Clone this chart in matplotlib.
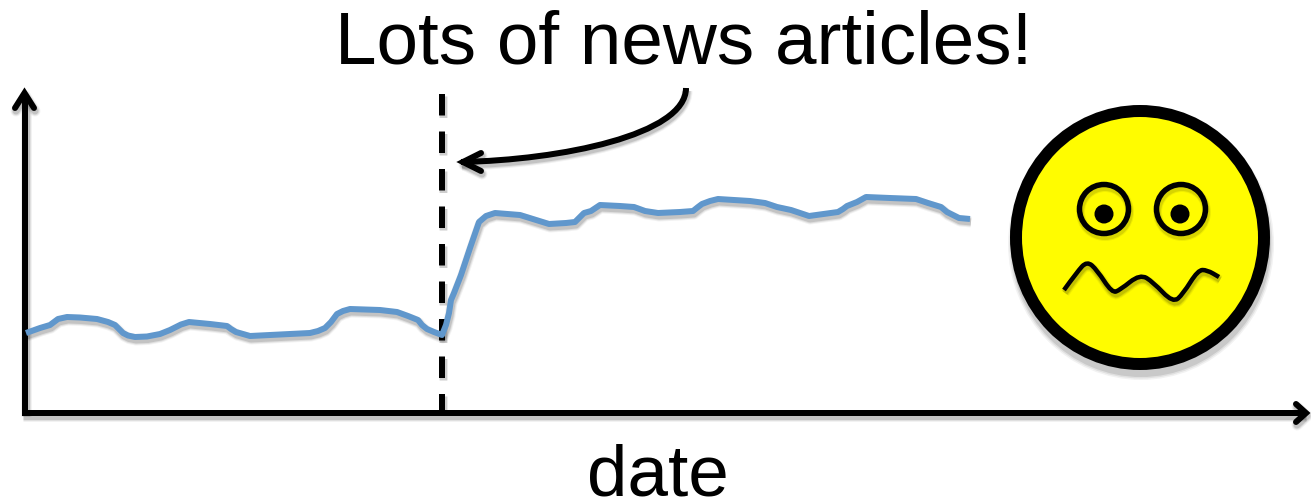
import matplotlib.pyplot as plt
from matplotlib.patches import Circle, Ellipse, PathPatch
from matplotlib.path import Path
from matplotlib.transforms import Affine2D

plt.rcParams['font.family'] = ['Liberation Sans', 'DejaVu Sans']

# values, in image pixels
series_x = [26, 40, 50, 54, 58, 67, 80, 97, 108, 115, 119, 123, 128, 135, 147, 160, 170, 176, 181, 189, 210, 227, 231,
            236, 250, 310, 318, 325, 331, 337, 343, 350, 380, 397, 408, 418, 422, 427, 434, 442, 446, 449, 451, 454,
            461, 470, 479, 486, 495, 520, 549, 566, 575, 579, 584, 591, 600, 620, 634, 645, 658, 680, 693, 698, 702,
            710, 718, 750, 765, 777, 791, 809, 838, 843, 847, 857, 866, 890, 916, 928, 941, 947, 959, 970]
series_y = [333, 328, 325, 322, 319, 317, 317.5, 319, 322, 325, 329, 333, 335.5, 337, 336.5, 334, 330, 327, 324.5, 322, 324, 326, 329,
            332, 336, 333, 331, 328, 322, 314, 311, 309, 310, 312, 316, 320, 325, 329, 332, 335, 325, 313, 300, 293,
            275, 248, 222, 216, 213, 215, 224, 223, 222, 218, 213, 211, 205, 206, 207, 211, 213, 212, 211, 207, 204,
            201, 199, 201, 203, 207, 210, 216, 212, 209, 206, 202, 197, 198, 199, 203, 207, 212, 218, 219]
mouth_x = [1064, 1077, 1087, 1097, 1112, 1120, 1140, 1153, 1173, 1183, 1198, 1207, 1219]
mouth_y = [290, 272, 261, 270, 293, 290, 274, 282, 303, 294, 270, 270, 277]
arrow_x = [686, 686, 560, 461]
arrow_y = [88, 135, 160, 162]

BLUE = '#6097cc'
SOFT = [(5, 0.05), (3, 0.08), (1, 0.12)]


def px(w):
    return w * 0.72


def smooth_path(xs, ys):
    # quadratic segments through midpoints
    verts = [(xs[0], ys[0])]
    codes = [Path.MOVETO]
    for i in range(1, len(xs) - 1):
        verts += [(xs[i], ys[i]), ((xs[i] + xs[i + 1]) / 2, (ys[i] + ys[i + 1]) / 2)]
        codes += [Path.CURVE3, Path.CURVE3]
    verts.append((xs[-1], ys[-1]))
    codes.append(Path.LINETO)
    return Path(verts, codes)


fig = plt.figure(figsize=(13.11, 5.04), dpi=100)
ax = fig.add_axes([0, 0, 1, 1])
ax.set_xlim(0, 1311)
ax.set_ylim(504, 0)
ax.axis('off')


def stroke(xs, ys, width, color='black', cap='butt', join='round', shade=True):
    if shade:
        for extra, alpha in SOFT:
            ax.plot([x + 1 for x in xs], [y + 3 for y in ys], color='black', alpha=alpha,
                    lw=px(width + extra), solid_capstyle=cap, solid_joinstyle='round')
    ax.plot(xs, ys, color=color, lw=px(width), solid_capstyle=cap, solid_joinstyle=join)


def curve(path, width):
    shifted = path.transformed(Affine2D().translate(1, 3))
    for extra, alpha in SOFT:
        ax.add_patch(PathPatch(shifted, fc='none', ec='black', alpha=alpha, lw=px(width + extra), capstyle='butt'))
    ax.add_patch(PathPatch(path, fc='none', ec='black', lw=px(width), capstyle='butt', joinstyle='round'))


# axes
stroke([25, 25], [413, 95], 6)
stroke([15, 24.5, 34], [108, 93, 108], 6, cap='round', join='miter')
stroke([22, 1305], [413, 413], 6)
stroke([1296, 1306, 1296], [404, 413, 422], 6, cap='round', join='miter')

# event marker, dashes run from the top
for extra, alpha in SOFT[1:]:
    ax.plot([443, 443], [96, 414], color='black', alpha=alpha, lw=px(6 + extra), dash_capstyle='butt',
            dashes=(21.5 / (6 + extra), 16 / (6 + extra)))
ax.plot([442, 442], [94, 413], color='black', lw=px(6), dash_capstyle='butt', dashes=(21.5 / 6, 16 / 6))

# series
stroke(series_x, series_y, 6, color=BLUE)

# curved arrow
arrow_path = Path(list(zip(arrow_x, arrow_y)), [Path.MOVETO, Path.CURVE4, Path.CURVE4, Path.CURVE4])
curve(arrow_path, 6)
stroke([481, 463, 481], [153, 162, 171], 6, cap='round', join='miter')

# face, shadow sits below it
for grow, alpha in [(6, 0.05), (3, 0.07), (0, 0.1)]:
    ax.add_patch(Ellipse((1141, 244), 260 + grow, 266 + grow, fc='black', ec='none', alpha=alpha))
ax.add_patch(Ellipse((1140, 237.5), 248, 253, fc='#fffc00', ec='black', lw=px(12)))

for eye_x, pupil_x in [(1104, 1104), (1181, 1180)]:
    for extra, alpha in [(4, 0.06), (2, 0.1)]:
        ax.add_patch(Circle((eye_x + 1, 212), 24.5, fc='none', ec='black', alpha=alpha, lw=px(5 + extra)))
    ax.add_patch(Circle((eye_x, 209), 24.5, fc='none', ec='black', lw=px(5.5)))
    ax.add_patch(Circle((pupil_x, 214), 9.5, fc='black', ec='none'))

curve(smooth_path(mouth_x, mouth_y), 4.5)

# labels
ax.text(684, 63, 'Lots of news articles!', fontsize=53.8, ha='center', va='baseline', color='black')
ax.text(658, 496, 'date', fontsize=52.5, ha='center', va='baseline', color='black')

fig.savefig('out.png', dpi=100)
